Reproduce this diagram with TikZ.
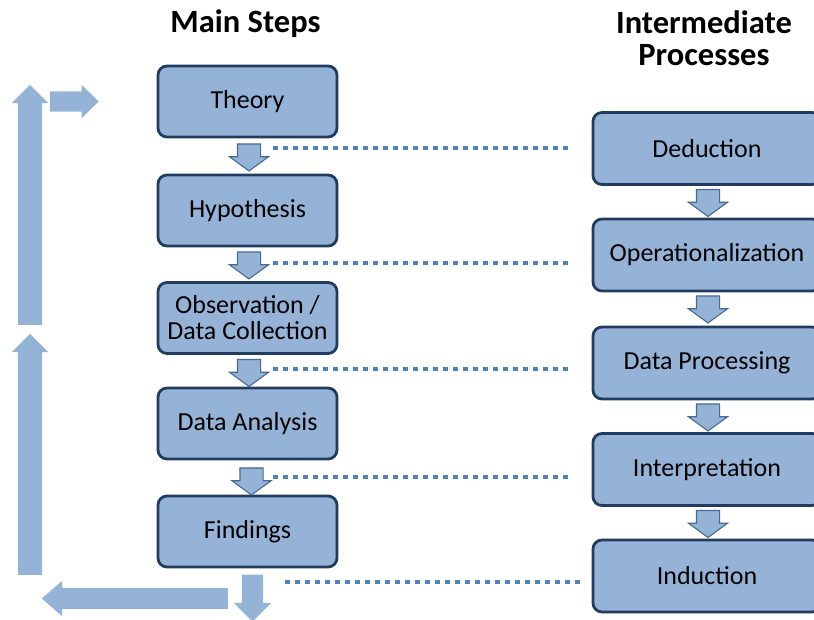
\documentclass[tikz,border=0pt]{standalone}
\usepackage{fontspec}
\setmainfont{Carlito}
\usetikzlibrary{shapes.arrows,calc}

\definecolor{boxfill}{RGB}{149,179,215}
\definecolor{boxline}{RGB}{34,60,96}
\definecolor{arrline}{RGB}{70,105,150}
\definecolor{dotblue}{RGB}{79,129,189}

\begin{document}
\begin{tikzpicture}[x=1pt,y=-1pt,
  stage/.style={draw=boxline, fill=boxfill, line width=2.8pt, rounded corners=9pt,
    minimum width=179pt, minimum height=71pt, inner sep=0pt, align=center,
    font=\fontsize{26}{26}\selectfont},
  process/.style={stage, minimum width=228pt, minimum height=72pt},
  heading/.style={font=\fontsize{32.5}{32}\selectfont\bfseries, align=center, inner sep=0pt},
  % block arrow placed by its tail: shaft half width = inner ysep
  stepdown/.style={single arrow, draw=arrline, fill=boxfill, line width=1.1pt,
    rotate=-90, anchor=tail, minimum height=27pt, minimum width=38pt,
    inner xsep=0pt, inner ysep=11pt,
    single arrow head extend=8pt, single arrow tip angle=108},
  bigarrow/.style={single arrow, fill=boxfill, draw=none, inner xsep=0pt, anchor=tail},
  dotline/.style={dotblue, line width=4.5pt, dash pattern=on 5pt off 5pt},
]
\useasboundingbox (0,0) rectangle (814,619);

% column headings
\node[heading, anchor=base] (hmain) at (245.5,32) {Main Steps};
\node[heading, anchor=base] (hint1) at (704,33) {Intermediate};
\node[heading, anchor=base] (hint2) at (704,65) {Processes};

% main steps
\node[stage] (theory) at (247.5,101.5) {Theory};
\node[stage] (hyp)    at (247.5,210.5) {Hypothesis};
\node[stage] (obs)    at (247.5,318)   {Observation /\\Data Collection};
\node[stage] (ana)    at (247.5,423.5) {Data Analysis};
\node[stage] (find)   at (247.5,531.5) {Findings};

% intermediate processes (running past the right edge)
\node[process] (ded)  at (707,148.5) {Deduction};
\node[process] (oper) at (707,255)   {Operationalization};
\node[process] (proc) at (707,363)   {Data Processing};
\node[process] (intp) at (707,469.5) {Interpretation};
\node[process] (ind)  at (707,576)   {Induction};

% small arrows between main steps
\node[stepdown] (m1) at ($(theory.south)+(1.5,5)$) {};
\node[stepdown] (m2) at ($(hyp.south)+(1.5,4)$) {};
\node[stepdown] (m3) at ($(obs.south)+(1.5,4)$) {};
\node[stepdown] (m4) at ($(ana.south)+(4,7)$) {};

% small arrows between intermediate processes
\node[stepdown] (i1) at ($(ded.south)+(1,3)$) {};
\node[stepdown] (i2) at ($(oper.south)+(1,3)$) {};
\node[stepdown] (i3) at ($(proc.south)+(1,3)$) {};
\node[stepdown] (i4) at ($(intp.south)+(1,3)$) {};

% dotted links from the main steps to the processes
\coordinate (d1) at (273,148);
\coordinate (d2) at (273,263);
\coordinate (d3) at (273,369);
\coordinate (d4) at (273,477);
\coordinate (d5) at (285,582);
\draw[dotline, shorten >=20pt] (d1) -- (d1 -| ded.west);
\draw[dotline, shorten >=20pt] (d2) -- (d2 -| oper.west);
\draw[dotline, shorten >=20pt] (d3) -- (d3 -| proc.west);
\draw[dotline, shorten >=20pt] (d4) -- (d4 -| intp.west);
\draw[dotline, shorten >=10pt] (d5) -- (d5 -| ind.west);

% feedback loop back to theory
\node[bigarrow, rotate=-90, minimum height=47pt, minimum width=37pt, inner ysep=10.5pt,
  single arrow head extend=8pt, single arrow tip angle=90] (out) at ($(find.south)+(5,6)$) {};
\node[bigarrow, rotate=180, minimum height=186pt, minimum width=35pt, inner ysep=10.5pt,
  single arrow head extend=7pt, single arrow tip angle=82] (back) at (228,598.5) {};
\node[bigarrow, rotate=90, minimum height=241pt, minimum width=36pt, inner ysep=12pt,
  single arrow head extend=6pt, single arrow tip angle=90] (up1) at (30,575) {};
\node[bigarrow, rotate=90, minimum height=240pt, minimum width=36pt, inner ysep=12pt,
  single arrow head extend=6pt, single arrow tip angle=90] (up2) at (30,325) {};
\node[bigarrow, minimum height=49pt, minimum width=33pt, inner ysep=10pt,
  single arrow head extend=6.5pt, single arrow tip angle=88] (toth) at ($(theory.west)+(-107,0)$) {};
\end{tikzpicture}
\end{document}
